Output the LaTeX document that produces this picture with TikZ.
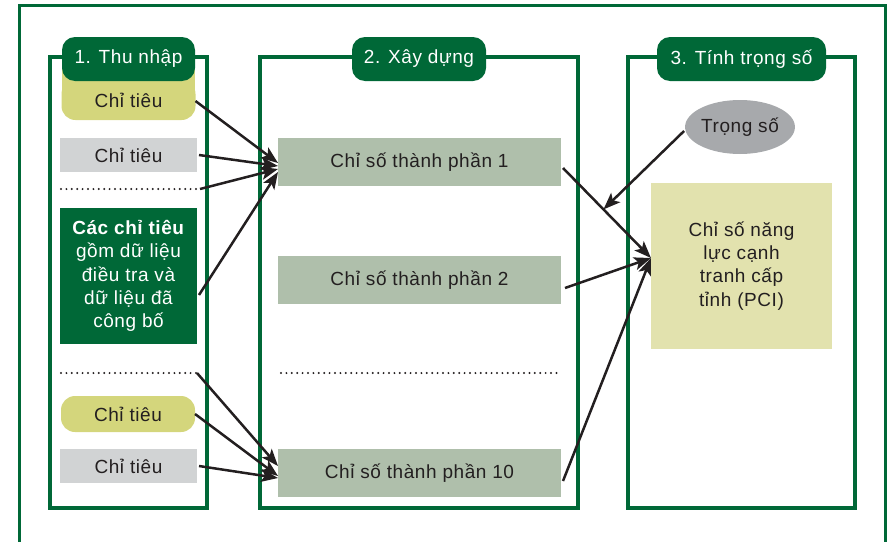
\documentclass[tikz,border=0pt]{standalone}
\usepackage{fontspec}
\setmainfont{Liberation Sans}[LetterSpace=3]
\usetikzlibrary{arrows.meta,calc,shapes.geometric}
\definecolor{dgreen}{HTML}{006837}
\definecolor{oliveC}{HTML}{D4D67C}
\definecolor{greyC}{HTML}{D1D3D4}
\definecolor{sageC}{HTML}{AFBFAB}
\definecolor{pciC}{HTML}{E2E2AE}
\definecolor{ellC}{HTML}{A7A9AC}
\definecolor{txt}{HTML}{231F20}
\begin{document}
\begin{tikzpicture}[x=1pt,y=-1pt,
  every node/.style={inner sep=0pt, outer sep=0pt, text=txt, font=\fontsize{19}{23.3}\selectfont},
  colframe/.style={draw=dgreen, line width=4pt, minimum height=451pt},
  tabbox/.style={fill=dgreen, rounded corners=13pt, minimum height=44pt, text=white},
  olivebox/.style={fill=oliveC, rounded corners=14pt, minimum width=134pt},
  greybox/.style={fill=greyC, minimum width=137pt, minimum height=34pt},
  sagebox/.style={fill=sageC, minimum width=283pt, minimum height=48pt},
  dotline/.style={line width=2.2pt, dash pattern=on 0pt off 5.4pt, line cap=round, draw=txt},
  conn/.style={-{Stealth[length=17pt,width=13pt,inset=4pt]}, line width=2.5pt, draw=txt}
]
\useasboundingbox (0,0) rectangle (889,541);
\clip (0,0) rectangle (889,541);
% outer frame
\draw[dgreen, line width=3pt] (19,560) -- (19,5) -- (885,5) -- (885,560);
% column frames
\node[colframe, minimum width=157pt] (c1) at (128.5,282.5) {};
\node[colframe, minimum width=318pt] (c2) at (419,282.5) {};
\node[colframe, minimum width=227pt] (c3) at (741.5,282.5) {};
% column 1 items
\fill[oliveC] (62,65) rectangle (195,100);
\node[olivebox, minimum height=40pt] (o1) at (128.5,100) {Chỉ tiêu};
\node[greybox] (g1) at (128.5,155) {Chỉ tiêu};
\coordinate (d1a) at (61,189);
\coordinate (d1b) at (200,189);
\draw[dotline] (d1a) -- (d1b);
\node[fill=dgreen, minimum width=137pt, minimum height=136pt, align=center, text=white] (gb) at (128.5,276)
  {\textbf{Các chỉ tiêu}\\gồm dữ liệu\\điều tra và\\dữ liệu đã\\công bố};
\coordinate (d2a) at (61,373);
\coordinate (d2b) at (197,373);
\draw[dotline] (d2a) -- (d2b);
\node[olivebox, minimum height=36pt] (o2) at (128,414) {Chỉ tiêu};
\node[greybox] (g2) at (128.5,466) {Chỉ tiêu};
% tabs
\node[tabbox, minimum width=133pt] (t1) at (128.5,59) {1. Thu nhập};
\node[tabbox, minimum width=134pt] (t2) at (419,59) {2. Xây dựng};
\node[tabbox, minimum width=169pt] (t3) at (741.5,59) {3. Tính trọng số};
% column 2 items
\node[sagebox] (p1) at (419.5,162) {Chỉ số thành phần 1};
\node[sagebox] (p2) at (419.5,280) {Chỉ số thành phần 2};
\coordinate (d3a) at (281,373);
\coordinate (d3b) at (560,373);
\draw[dotline] (d3a) -- (d3b);
\node[sagebox] (p10) at (419.5,473) {Chỉ số thành phần 10};
% column 3 items
\node[ellipse, fill=ellC, minimum width=103pt, minimum height=54pt] (ts) at (740,127) {Trọng số};
\node[fill=pciC, minimum width=181pt, minimum height=166pt, align=center] (pci) at (741.5,266)
  {Chỉ số năng\\lực cạnh\\tranh cấp\\tỉnh (PCI)};
% arrows column 1 -> column 2
\draw[conn] ([yshift=-1pt]o1.east) -- ([yshift=-1pt]p1.west);
\draw[conn] ([xshift=2pt]g1.east) -- ([yshift=-4pt]p1.west);
\draw[conn] (d1b) -- ([yshift=-7pt]p1.west);
\draw[conn] ([xshift=2pt,yshift=-19pt]gb.east) -- ([yshift=-10pt]p1.west);
\draw[conn] (d2b) -- ([yshift=7pt]p10.west);
\draw[conn] (o2.east) -- ([yshift=-3pt]p10.west);
\draw[conn] ([xshift=2pt]g2.east) -- ([yshift=-5pt]p10.west);
% arrows column 2 -> PCI
\coordinate (p1s) at ([xshift=2pt,yshift=-6pt]p1.east);
\coordinate (pcit) at ([yshift=8pt]pci.west);
\draw[conn] (p1s) -- (pcit);
\draw[conn] ([xshift=4pt,yshift=-8pt]p2.east) -- (pcit);
\draw[conn] ([xshift=2pt,yshift=-8pt]p10.east) -- (pcit);
\coordinate (wt) at ($(p1s)!0.46!(pcit)$);
\draw[conn] ([xshift=-1pt,yshift=-4pt]ts.west) -- (wt);
\end{tikzpicture}
\end{document}
